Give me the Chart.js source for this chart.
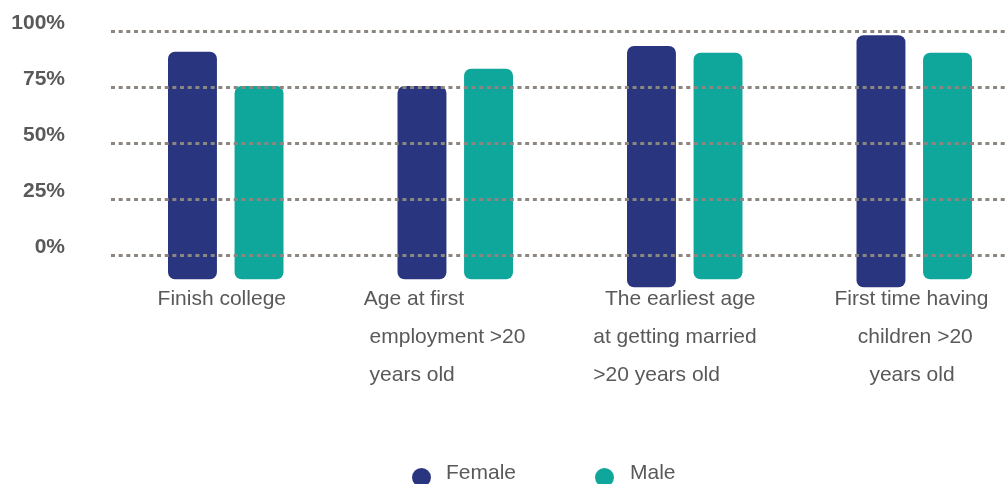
<!DOCTYPE html>
<html><head><meta charset="utf-8">
<script src="https://cdn.jsdelivr.net/npm/chart.js@4.4.1/dist/chart.umd.min.js"></script>
<style>
html,body{margin:0;padding:0;overflow:hidden;background:#fff;width:1006px;height:484px;}
#wrap{position:relative;width:1006px;height:484px;overflow:hidden;}
canvas{position:absolute;left:0;top:0;}
.lg-dot{position:absolute;width:19px;height:19px;border-radius:50%;}
.lg-txt{position:absolute;font:21px "Liberation Sans",Arial,sans-serif;line-height:21px;color:#595959;white-space:nowrap;}
</style></head><body>
<div id="wrap"><canvas id="c" width="1029" height="484" style="width:1029px;height:484px"></canvas><div id="legend"></div></div>
<script>
// ---- data ----
const categories = ['Finish college', 'Age at first employment >20 years old', 'The earliest age at getting married >20 years old', 'First time having children >20 years old'];
const tickLines = [
  ['    Finish college'],
  ['Age at first', ' employment >20', ' years old'],
  ['  The earliest age', 'at getting married', '>20 years old'],
  ['  First time having', '      children >20', '        years old']
];
const seriesNames = ['Female', 'Male'];
const femaleLow  = [-10.6, -10.6, -14.2, -14.2];
const femaleHigh = [91.0, 75.7, 93.5, 98.3];
const maleLow    = [-10.6, -10.6, -10.6, -10.6];
const maleHigh   = [75.7, 83.4, 90.5, 90.5];
const yTicks = [0, 25, 50, 75, 100];

const colors = ['#29367f', '#0fa69b'];
const FONT = '"Liberation Sans", Arial, sans-serif';

const chart = new Chart(document.getElementById('c'), {
  type: 'bar',
  data: {
    labels: categories,
    datasets: [
      { label: seriesNames[0], data: femaleLow.map((l, i) => [l, femaleHigh[i]]), backgroundColor: colors[0] },
      { label: seriesNames[1], data: maleLow.map((l, i) => [l, maleHigh[i]]), backgroundColor: colors[1] }
    ]
  },
  options: {
    responsive: false,
    animation: false,
    events: [],
    layout: { padding: { top: 31.5, left: 0, right: 0, bottom: 89.9 } },
    datasets: { bar: { categoryPercentage: 0.58, barPercentage: 0.735, borderRadius: 7, borderSkipped: false } },
    plugins: { legend: { display: false }, tooltip: { enabled: false } },
    scales: {
      x: {
        grid: { display: false, drawTicks: false },
        border: { display: false },
        ticks: {
          align: 'start', labelOffset: -91.5, padding: -9, maxRotation: 0, autoSkip: false,
          color: '#595959', font: { family: FONT, size: 21, lineHeight: 38 / 21 },
          callback: (v, i) => tickLines[i]
        },
        afterFit: s => { s.height = 105; s.paddingLeft = 0; s.paddingRight = 0; }
      },
      y: {
        min: -15, max: 100,
        afterBuildTicks: s => { s.ticks = yTicks.map(v => ({ value: v })); },
        grid: { color: 'rgb(140,134,128)', lineWidth: 3, drawTicks: false, z: 1 },
        border: { display: false, dash: [4, 3.67] },
        ticks: {
          padding: 46, labelOffset: -8, color: '#595959',
          font: { family: FONT, size: 21, weight: 'bold' },
          callback: v => v + '%'
        },
        afterFit: s => { s.width = 111; s.paddingTop = 0; s.paddingBottom = 0; }
      }
    }
  }
});

// HTML legend built from the datasets
const lg = document.getElementById('legend');
const dotLeft = [412, 594.5], txtLeft = [446, 630];
chart.data.datasets.forEach((ds, i) => {
  const d = document.createElement('div');
  d.className = 'lg-dot'; d.style.left = dotLeft[i] + 'px'; d.style.top = '468px'; d.style.background = ds.backgroundColor;
  const t = document.createElement('div');
  t.className = 'lg-txt'; t.style.left = txtLeft[i] + 'px'; t.style.top = '461px'; t.textContent = ds.label;
  lg.appendChild(d); lg.appendChild(t);
});
</script>
</body></html>
